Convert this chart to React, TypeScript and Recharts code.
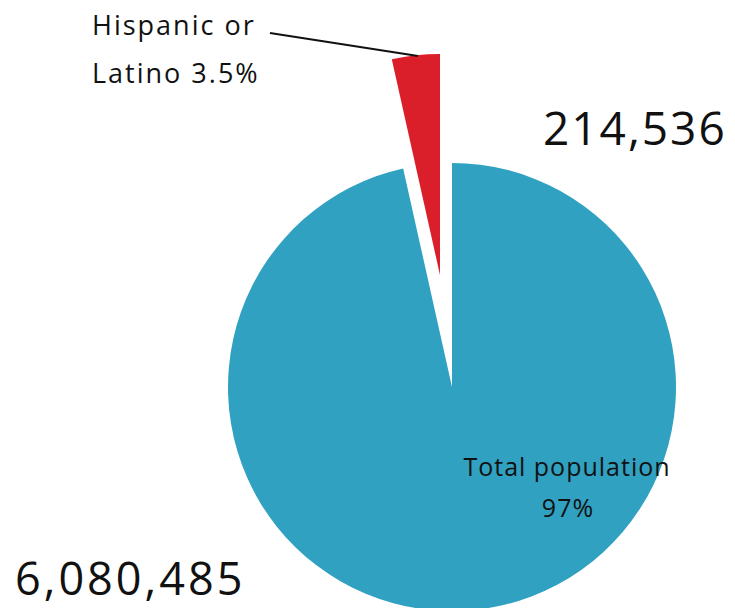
import { PieChart, Pie, Cell } from 'recharts'

// slices, in drawing order (clockwise from 12 o'clock)
const groups = ['Total population', 'Hispanic or Latino']
const shares = [96.5, 3.5]
const counts = ['6,080,485', '214,536']
const percentLabels = ['97%', '3.5%']
const colors = ['#30a1c1', '#da1f2b']

const data = groups.map((name, i) => ({ name, value: shares[i] }))

const font = '"Open Sans", sans-serif'

// blue slice label: text inside the pie + count at bottom left
const renderTotalLabel = (props: any) => {
  const { cx, cy, index } = props
  if (index !== 0) return null
  return (
    <g fontFamily={font} fill="#111">
      <text x={cx + 115} y={cy + 89} textAnchor="middle" fontSize={25} letterSpacing={1}>
        {groups[0]}
      </text>
      <text x={cx + 116} y={cy + 130} textAnchor="middle" fontSize={25} letterSpacing={1}>
        {percentLabels[0]}
      </text>
      <text x={cx - 437} y={cy + 208} fontSize={45} letterSpacing={3}>
        {counts[0]}
      </text>
    </g>
  )
}

// exploded red slice label: leader line, name, count
const renderHispanicLabel = (props: any) => {
  const { cx, cy, index } = props
  if (index !== 1) return null
  return (
    <g fontFamily={font} fill="#111">
      <line x1={cx - 170} y1={cy - 242} x2={cx - 22} y2={cy - 219} stroke="#111" strokeWidth={2} />
      <text x={cx - 348} y={cy - 240} fontSize={27} fontWeight={500} letterSpacing={2}>
        Hispanic or
      </text>
      <text x={cx - 348} y={cy - 192} fontSize={27} fontWeight={500} letterSpacing={2}>
        Latino {percentLabels[1]}
      </text>
      <text x={cx + 103} y={cy - 130} fontSize={46} letterSpacing={2}>
        {counts[1]}
      </text>
    </g>
  )
}

export default function App() {
  return (
    <div style={{ position: 'absolute', left: 0, top: 0, background: '#fff' }}>
      <PieChart width={735} height={608} margin={{ top: 0, right: 0, bottom: 0, left: 0 }}>
        <Pie
          data={data}
          dataKey="value"
          cx={452}
          cy={387}
          outerRadius={224}
          startAngle={90}
          endAngle={-270}
          stroke="none"
          label={renderTotalLabel}
          labelLine={false}
          isAnimationActive={false}
        >
          {data.map((d, i) => (
            <Cell key={d.name} fill={i === 0 ? colors[0] : 'transparent'} />
          ))}
        </Pie>
        <Pie
          data={data}
          dataKey="value"
          cx={440}
          cy={275}
          outerRadius={221}
          startAngle={90}
          endAngle={-270}
          stroke="none"
          label={renderHispanicLabel}
          labelLine={false}
          isAnimationActive={false}
        >
          {data.map((d, i) => (
            <Cell key={d.name} fill={i === 1 ? colors[1] : 'transparent'} />
          ))}
        </Pie>
      </PieChart>
    </div>
  )
}
